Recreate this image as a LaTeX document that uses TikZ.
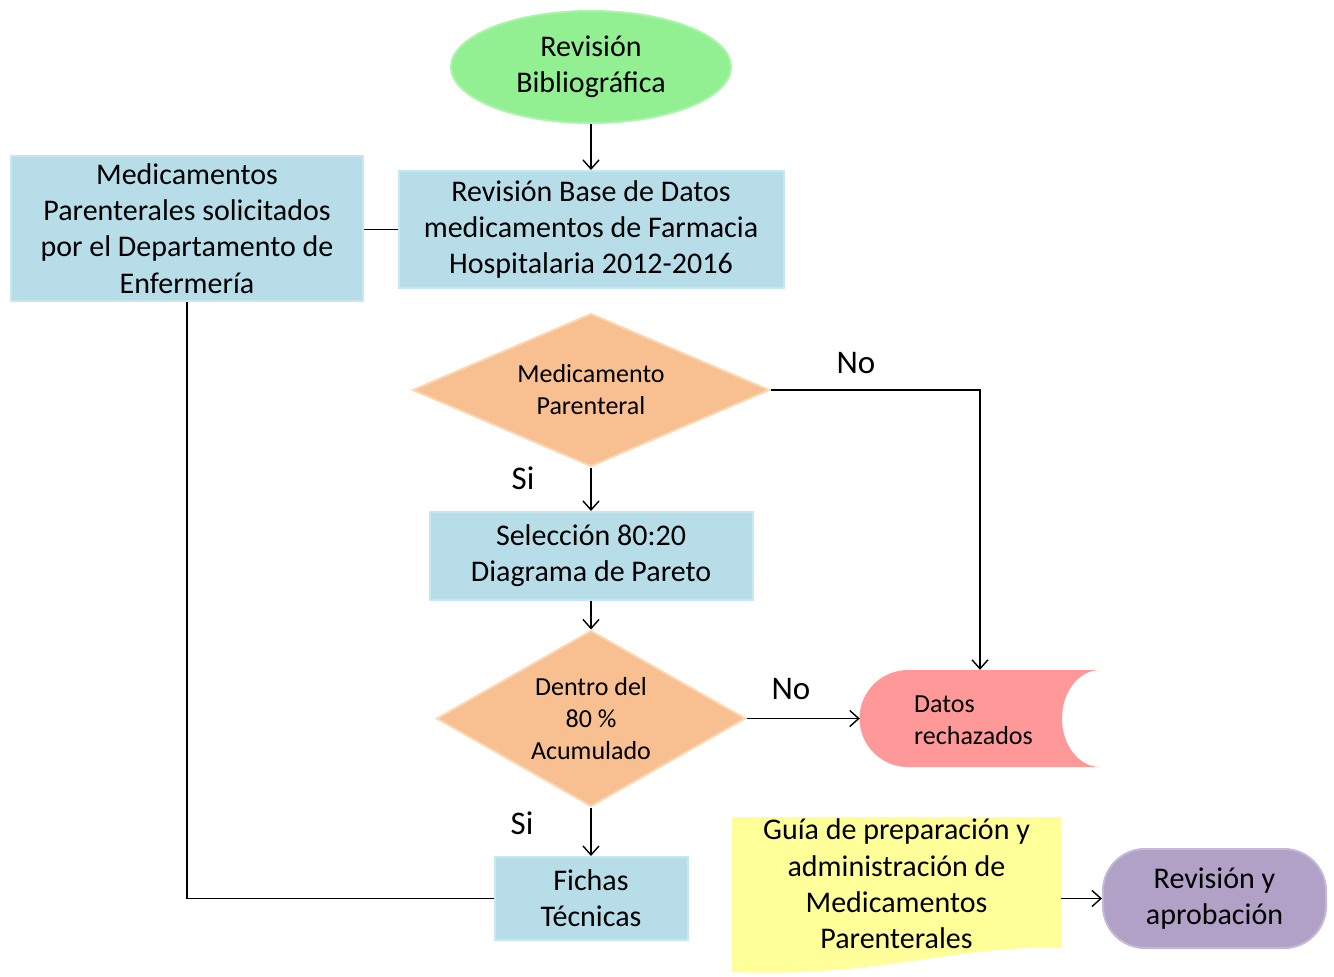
\documentclass[tikz,border=0pt]{standalone}
\usepackage{fontspec}
\setmainfont{Carlito}
\usetikzlibrary{shapes.geometric,arrows.meta}
\definecolor{grf}{RGB}{146,240,146}
\definecolor{grb}{RGB}{170,245,170}
\definecolor{blf}{RGB}{183,222,232}
\definecolor{blb}{RGB}{200,232,240}
\definecolor{orf}{RGB}{248,192,144}
\definecolor{orb}{RGB}{252,215,180}
\definecolor{pkf}{RGB}{255,153,153}
\definecolor{ylf}{RGB}{255,255,153}
\definecolor{puf}{RGB}{178,161,199}
\definecolor{pub}{RGB}{196,184,214}
\begin{document}
\begin{tikzpicture}[x=1pt,y=-1pt,
  bigtxt/.style={font=\fontsize{30}{36.3}\selectfont},
  smalltxt/.style={font=\fontsize{26}{32}\selectfont},
  box/.style={rectangle, fill=blf, draw=blb, line width=2pt, align=center, bigtxt, inner sep=0pt},
  dec/.style={diamond, fill=orf, draw=orb, line width=2pt, align=center, smalltxt, inner sep=0pt},
  conn/.style={line width=1.4pt, draw=black},
  arr/.style={conn, -{Straight Barb[length=9pt,width=16pt,line width=1.4pt]}},
  lbl/.style={font=\fontsize{33}{36}\selectfont, inner sep=0pt}]
\useasboundingbox (0,0) rectangle (1334,977);

% nodes
\node[ellipse, fill=grf, draw=grb, line width=2pt, minimum width=280pt, minimum height=112pt,
      align=center, bigtxt, inner sep=0pt] (bib) at (591,67) {Revisión\\Bibliográfica};
\node[box, minimum width=385pt, minimum height=117pt] (base) at (591,229.5)
  {Revisión Base de Datos\\medicamentos de Farmacia\\Hospitalaria 2012-2016};
\node[box, minimum width=352pt, minimum height=145pt] (med) at (187,228.5)
  {Medicamentos\\Parenterales solicitados\\por el Departamento de\\Enfermería};
\node[dec, minimum width=357pt, minimum height=153pt, shape aspect=2.33] (d1) at (591,390)
  {Medicamento\\Parenteral};
\node[box, minimum width=323pt, minimum height=88pt] (sel) at (591,556)
  {Selección 80:20\\Diagrama de Pareto};
\node[dec, minimum width=309pt, minimum height=176pt, shape aspect=1.75] (d2) at (591,718.5)
  {Dentro del\\80 \%\\Acumulado};
\node[box, minimum width=193pt, minimum height=83pt] (fich) at (591,898.5)
  {Fichas\\Técnicas};

% Datos rechazados
\fill[pkf] (1100,670) -- (908,670) arc[start angle=270, end angle=90, radius=48.5]
  -- (1100,767) arc[start angle=90, end angle=270, x radius=38, y radius=48.5] -- cycle;
\node[minimum width=240pt, minimum height=97pt, inner sep=0pt] (rej) at (980,718.5) {};
\node[smalltxt, align=left, inner sep=0pt, anchor=west] (rejt) at (914,720) {Datos\\rechazados};

% Document
\fill[ylf] (732,817) -- (1061,817) -- (1061,948)
  .. controls (960,944) and (880,978) .. (732,972) -- cycle;
\node[minimum width=329pt, minimum height=130pt, inner sep=0pt, align=center, bigtxt] (doc) at (896.5,884)
  {Guía de preparación y\\administración de\\Medicamentos\\Parenterales};

\node[rectangle, rounded corners=42pt, fill=puf, draw=pub, line width=2pt, minimum width=223pt,
      minimum height=99pt, align=center, bigtxt, inner sep=0pt] (rev) at (1214.5,898.5)
  {Revisión y\\aprobación};

% labels
\node[lbl] (no1) at (856,363) {No};
\node[lbl] (si1) at (523,478) {Si};
\node[lbl] (no2) at (791,689) {No};
\node[lbl] (si2) at (522,823) {Si};

% connectors
\draw[arr] (bib) -- (base);
\draw[conn] (med.east |- base.west) -- (base.west);
\draw[arr] (d1.east) -| (rej.north);
\draw[arr] (d1.south) -- (sel.north);
\draw[arr] (sel.south) -- (d2.north);
\draw[arr] (d2.east) -- (rej.west);
\draw[arr] (d2.south) -- (fich.north);
\draw[conn] (fich.west) -| (med.south);
\draw[arr] (doc.east |- rev.west) -- (rev.west);
\end{tikzpicture}
\end{document}
